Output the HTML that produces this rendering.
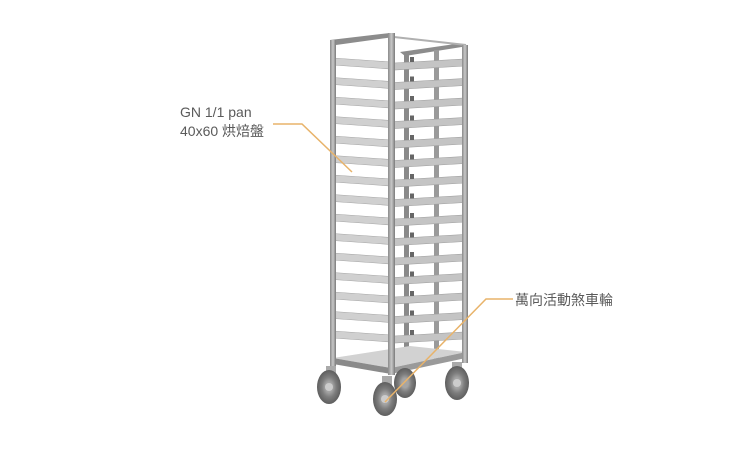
<!DOCTYPE html>
<html><head><meta charset="utf-8"><style>
html,body{margin:0;padding:0;background:#fff;width:750px;height:450px;overflow:hidden}
svg{display:block}
text{font-family:"Liberation Sans","Noto Sans CJK TC",sans-serif;font-size:14px;fill:#5a5a5a}
</style></head><body>
<svg id="s" width="750" height="450" viewBox="0 0 750 450">
<defs>
<linearGradient id="post" x1="0" x2="1"><stop offset="0" stop-color="#8a8a8a"/><stop offset="0.5" stop-color="#c8c8c8"/><stop offset="1" stop-color="#7a7a7a"/></linearGradient>
<radialGradient id="wh"><stop offset="0.3" stop-color="#a5a5a5"/><stop offset="0.6" stop-color="#7d7d7d"/><stop offset="1" stop-color="#5e5e5e"/></radialGradient>
</defs>
<g id="rack">
<polygon points="330,40 390,33 394,37 336,45" fill="#8c8c8c"/>
<polygon points="400,52 455,44 468,46 405,56" fill="#8c8c8c"/>
<line x1="394" y1="37" x2="466" y2="45" stroke="#b0b0b0" stroke-width="2"/>
<rect x="434" y="50" width="5" height="310" fill="#9a9a9a"/>
<rect x="404" y="52" width="5" height="300" fill="#8a8a8a"/>
<g id="shelves"></g>
<polygon points="333,358 391,368 466,352 410,346" fill="#d2d2d2"/>
<polygon points="333,358 391,368 391,374 333,364" fill="#8a8a8a"/>
<polygon points="391,368 466,352 466,358 391,374" fill="#9a9a9a"/>
<rect x="330" y="40" width="6" height="328" fill="url(#post)"/>
<rect x="388" y="33" width="7" height="342" fill="url(#post)"/>
<rect x="462" y="45" width="6" height="318" fill="url(#post)"/>
<rect x="326" y="366" width="10" height="10" fill="#aaa"/>
<rect x="382" y="376" width="10" height="10" fill="#aaa"/>
<rect x="452" y="362" width="10" height="10" fill="#aaa"/>
<ellipse cx="405" cy="383" rx="11" ry="15" fill="url(#wh)"/>
<ellipse cx="329" cy="387" rx="12" ry="17" fill="url(#wh)"/>
<ellipse cx="457" cy="383" rx="12" ry="17" fill="url(#wh)"/>
<ellipse cx="385" cy="399" rx="12" ry="17" fill="url(#wh)"/>
<circle cx="329" cy="387" r="4" fill="#ccc"/>
<circle cx="457" cy="383" r="4" fill="#ccc"/>
<circle cx="385" cy="399" r="4" fill="#ccc"/>
</g>
<polyline points="273,124 302,124 352,172" fill="none" stroke="#e8b36a" stroke-width="1.5"/>
<polyline points="513,299 486,299 385,402" fill="none" stroke="#e8b36a" stroke-width="1.5"/>
<text x="180" y="117">GN 1/1 pan</text>
<text x="180" y="136">40x60 烘焙盤</text>
<text x="515" y="305">萬向活動煞車輪</text>
</svg>
<script>
var g=document.getElementById('shelves'),h='';
for(var i=0;i<15;i++){
 var y=62+i*19.5;
 h+='<polygon points="333,'+(y-4)+' 391,'+(y)+' 391,'+(y+7)+' 333,'+(y+3)+'" fill="#d0d0d0" stroke="#a5a5a5" stroke-width="0.6"/>';
 h+='<polygon points="394,'+(y+1)+' 465,'+(y-3)+' 465,'+(y+4)+' 394,'+(y+8)+'" fill="#c4c4c4" stroke="#a0a0a0" stroke-width="0.6"/>';
 h+='<rect x="410" y="'+(y-5)+'" width="4" height="5" fill="#666"/>';
}
g.innerHTML=h;
</script>
</body></html>
